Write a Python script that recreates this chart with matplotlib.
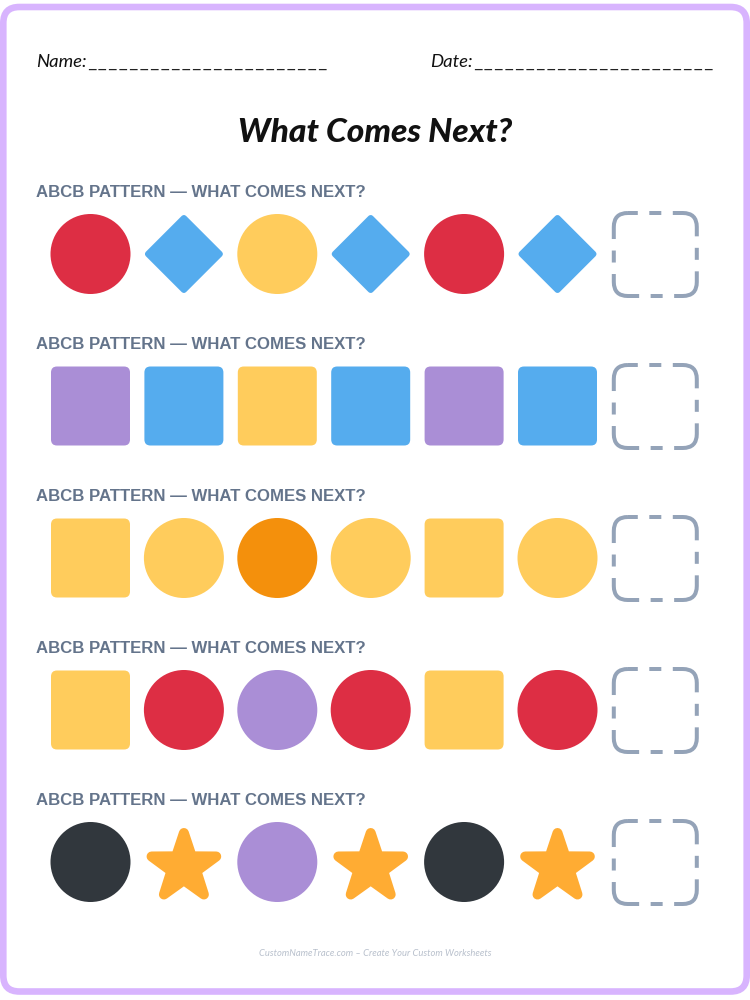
import numpy as np
import matplotlib
matplotlib.use('Agg')
import matplotlib.pyplot as plt
from matplotlib.patches import Circle, FancyBboxPatch, Polygon

# worksheet rows, one list of shapes and one of colour names per row
row1_shapes = ['circle', 'diamond', 'circle', 'diamond', 'circle', 'diamond']
row1_colors = ['red', 'blue', 'yellow', 'blue', 'red', 'blue']
row2_shapes = ['square', 'square', 'square', 'square', 'square', 'square']
row2_colors = ['purple', 'blue', 'yellow', 'blue', 'purple', 'blue']
row3_shapes = ['square', 'circle', 'circle', 'circle', 'square', 'circle']
row3_colors = ['yellow', 'yellow', 'orange', 'yellow', 'yellow', 'yellow']
row4_shapes = ['square', 'circle', 'circle', 'circle', 'square', 'circle']
row4_colors = ['yellow', 'red', 'purple', 'red', 'yellow', 'red']
row5_shapes = ['circle', 'star', 'circle', 'star', 'circle', 'star']
row5_colors = ['dark', 'amber', 'purple', 'amber', 'dark', 'amber']

rows = [(row1_shapes, row1_colors), (row2_shapes, row2_colors),
        (row3_shapes, row3_colors), (row4_shapes, row4_colors),
        (row5_shapes, row5_colors)]

row_label = 'ABCB PATTERN \u2014 WHAT COMES NEXT?'
title = 'What Comes Next?'
footer = 'CustomNameTrace.com \u2013 Create Your Custom Worksheets'

palette = {'red': '#DD2E44', 'blue': '#55ACEE', 'yellow': '#FFCC5C',
           'purple': '#AA8ED6', 'orange': '#F4900C', 'dark': '#31373D',
           'amber': '#FFAC33'}

PX = 0.72  # points per pixel at dpi 100
plt.rcParams['lines.scale_dashes'] = False

fig = plt.figure(figsize=(7.5, 10), dpi=100, facecolor='white')
ax = fig.add_axes([0, 0, 1, 1])
ax.set_xlim(0, 750)
ax.set_ylim(1000, 0)
ax.set_aspect('equal')
ax.axis('off')

# lilac page border
ax.add_patch(FancyBboxPatch((3.3, 7), 743.4, 984.5,
                            boxstyle='round,pad=0,rounding_size=16',
                            fc='white', ec='#D8B4FE', lw=6.6 * PX))

# name and date lines
blank = '\u2009'.join(['_'] * 23)
ax.text(36, 67, 'Name:', fontsize=18.5 * PX, family='Lato', style='italic', color='#111111')
ax.text(430, 67, 'Date:', fontsize=18.5 * PX, family='Lato', style='italic', color='#111111')
ax.text(88.5, 66, blank, fontsize=14.85 * PX, color='#222222', family='DejaVu Sans')
ax.text(474.5, 66, blank, fontsize=14.85 * PX, color='#222222', family='DejaVu Sans')

ax.text(375.5, 142, title, fontsize=33.5 * PX, family='Lato', style='italic', weight='black',
        color='#111111', ha='center', va='baseline')


def draw_shape(kind, color, cx, cy):
    if kind == 'circle':
        ax.add_patch(Circle((cx, cy), 40, fc=color, ec='none'))
    elif kind == 'square':
        ax.add_patch(FancyBboxPatch((cx - 39.5, cy - 39.5), 79, 79,
                                    boxstyle='round,pad=0,rounding_size=6', fc=color, ec='none'))
    elif kind == 'diamond':
        ax.add_patch(Polygon([(cx - 36, cy), (cx, cy - 36), (cx + 36, cy), (cx, cy + 36)],
                             closed=True, fc=color, ec=color, lw=6 * PX, joinstyle='round'))
    elif kind == 'star':
        angles = np.deg2rad(-90 + 36 * np.arange(10))
        radii = np.where(np.arange(10) % 2 == 0, 34, 13.2)
        pts = np.column_stack([cx + radii * np.cos(angles), cy + 5 + radii * np.sin(angles)])
        ax.add_patch(Polygon(pts, closed=True, fc=color, ec=color, lw=10 * PX, joinstyle='round'))


def draw_target(cx, cy):
    # corner dash, gap, short mid-side dash, gap on each side
    dashes = (42 * PX, 11.5 * PX, 12 * PX, 11.5 * PX)
    ax.add_patch(FancyBboxPatch((cx - 41.5, cy - 41), 83, 83,
                                boxstyle='round,pad=0,rounding_size=14', fc='none',
                                ec='#94A3B8', lw=4 * PX, capstyle='butt',
                                linestyle=(32 * PX, dashes)))


col_x = np.linspace(90.5, 557.5, 6)
for r, (shapes, colors) in enumerate(rows):
    top = 152 * r
    ax.text(36, 197 + top, row_label, fontsize=16.75 * PX, family='Liberation Sans', weight='bold',
            color='#64748B', va='baseline')
    for x, kind, name in zip(col_x, shapes, colors):
        draw_shape(kind, palette[name], x, 254 + top)
    draw_target(655.3, 254 + top)

ax.text(375, 956, footer, fontsize=9.4 * PX, family='Lato', style='italic',
        color='#B8C0CC', ha='center', va='baseline')

fig.savefig('out.png', dpi=100, facecolor='white')
